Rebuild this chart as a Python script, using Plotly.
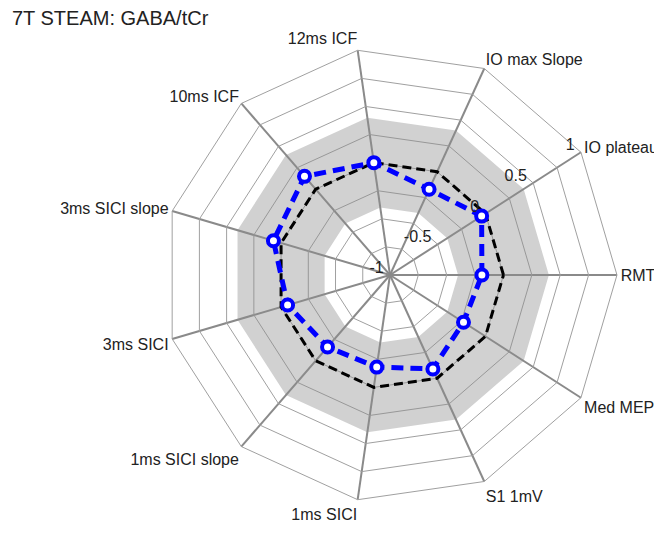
import plotly.graph_objects as go

# Оси радара (против часовой стрелки, начиная с RMT)
categories = ['RMT', 'IO plateau', 'IO max Slope', '12ms ICF', '10ms ICF',
              '3ms SICI slope', '3ms SICI', '1ms SICI slope', '1ms SICI',
              'S1 1mV', 'Med MEP']

# Корреляция с GABA/tCr
gaba_values = [-0.19, -0.04, -0.17, 0.0, 0.15, 0.07, -0.06, -0.16, -0.18, -0.09, -0.23]

# Нулевая линия и серая полоса
zero_line = [0, 0, 0, 0, 0, 0, 0, 0, 0, 0, 0]
band_upper = [0.4, 0.4, 0.4, 0.4, 0.4, 0.4, 0.4, 0.4, 0.4, 0.4, 0.4]
band_lower = [-0.4, -0.4, -0.4, -0.4, -0.4, -0.4, -0.4, -0.4, -0.4, -0.4, -0.4]

radial_ticks = [-1, -0.75, -0.5, -0.25, 0, 0.25, 0.5, 0.75, 1]
radial_text = ['-1', '', '-0.5', '', '0', '', '0.5', '', '1']

FONT = 'Liberation Sans, Arial, sans-serif'
# body страницы имеет отступ 8px, поэтому домен смещён на 8px влево/вверх
DOMAIN = dict(x=[0.2341, 0.9199], y=[0.0749, 0.9251])

fig = go.Figure()

# Серая полоса: внешний контур, затем внутренний в обратном порядке
inner_order = [0] + list(range(len(categories) - 1, 0, -1)) + [0]
fig.add_trace(go.Scatterpolar(
    theta=categories + [categories[0]] + [categories[i] for i in inner_order],
    r=band_upper + [band_upper[0]] + [band_lower[i] for i in inner_order],
    mode='lines',
    fill='toself',
    fillcolor='rgba(140, 140, 140, 0.4)',
    line=dict(width=0, color='rgba(0,0,0,0)'),
    hoverinfo='skip',
    showlegend=False
))

# Нулевая линия
fig.add_trace(go.Scatterpolar(
    theta=categories + [categories[0]],
    r=zero_line + [zero_line[0]],
    mode='lines',
    line=dict(color='black', width=3, dash='9px,5px'),
    showlegend=False
))

# Данные: линия
fig.add_trace(go.Scatterpolar(
    theta=categories + [categories[0]],
    r=gaba_values + [gaba_values[0]],
    mode='lines',
    line=dict(color='#0000ff', width=5, dash='12px,7px'),
    showlegend=False
))

# Данные: маркеры (на прозрачной круглой полярной системе поверх,
# т.к. при gridshape='linear' маркеры не отрисовываются)
fig.add_trace(go.Scatterpolar(
    theta=categories,
    r=gaba_values,
    mode='markers',
    marker=dict(size=11, color='white', symbol='circle',
                line=dict(color='#0000ff', width=4)),
    subplot='polar2',
    showlegend=False
))

fig.update_layout(
    width=662,
    height=534,
    margin=dict(l=0, r=0, t=0, b=0),
    paper_bgcolor='white',
    plot_bgcolor='white',
    font=dict(family=FONT, color='#222'),
    title=dict(
        text='7T STEAM: GABA/tCr',
        x=0.006, xanchor='left', xref='paper',
        y=0.981, yanchor='middle',
        font=dict(size=20, color='#222', family=FONT)
    ),
    polar=dict(
        domain=DOMAIN,
        bgcolor='white',
        gridshape='linear',
        angularaxis=dict(
            type='category',
            direction='counterclockwise',
            rotation=0,
            showgrid=True,
            gridcolor='#8a8a8a',
            gridwidth=2,
            showline=True,
            linecolor='#a0a0a0',
            linewidth=1,
            ticks='',
            tickfont=dict(size=16, color='#222', family=FONT)
        ),
        radialaxis=dict(
            range=[-1, 1],
            angle=32.73,
            side='counterclockwise',
            tickangle=32.73,
            tickvals=radial_ticks,
            ticktext=radial_text,
            showline=False,
            ticks='',
            gridcolor='#a0a0a0',
            gridwidth=1,
            tickfont=dict(size=16, color='#222', family=FONT)
        )
    ),
    polar2=dict(
        domain=DOMAIN,
        bgcolor='rgba(0,0,0,0)',
        angularaxis=dict(
            type='category',
            categoryarray=categories,
            direction='counterclockwise',
            rotation=0,
            showgrid=False,
            showline=False,
            showticklabels=False,
            ticks=''
        ),
        radialaxis=dict(
            range=[-1, 1],
            visible=False
        )
    )
)

fig.write_html("out.html")
